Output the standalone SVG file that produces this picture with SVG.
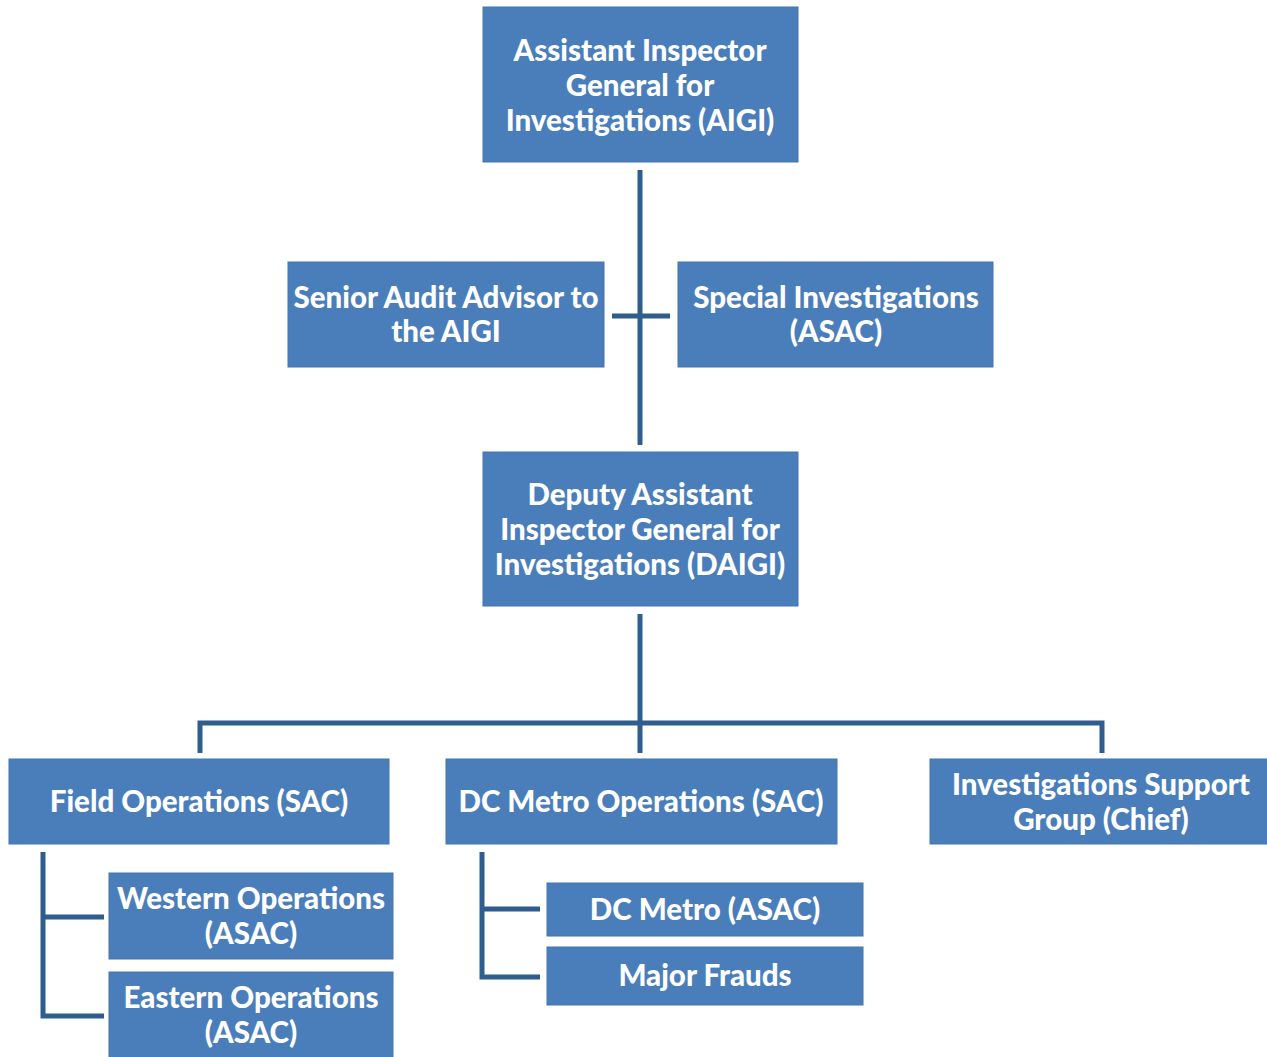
<svg xmlns="http://www.w3.org/2000/svg" width="1267" height="1057" viewBox="0 0 1267 1057">
<style>
.box{fill:#4a7ebb;stroke:#4475b0;stroke-width:1}
.t{font-family:Lato,"Open Sans","Liberation Sans",sans-serif;font-weight:900;font-size:29.5px;fill:#ffffff;text-anchor:middle}
.c{stroke:#2f5d8e;stroke-width:5;fill:none}
</style>
<rect width="1267" height="1057" fill="#ffffff"/>
<g id="connectors">
<path class="c" d="M640 170 V445"/>
<path class="c" d="M612 316 H670"/>
<path class="c" d="M640 614 V723"/>
<path class="c" d="M200 753 V723 H1102 V753"/>
<path class="c" d="M640 723 V753"/>
<path class="c" d="M43 852 V1016 H104 M43 917 H104"/>
<path class="c" d="M482 852 V977 H540 M482 909 H540"/>
</g>
<g id="aigi"><rect class="box" x="483" y="7" width="315" height="155"/>
<text class="t" x="640" y="61">Assistant Inspector</text><text class="t" x="640" y="96">General for</text><text class="t" x="640" y="131">Investigations (AIGI)</text></g>
<g id="senior"><rect class="box" x="288" y="262" width="316" height="105"/>
<text class="t" x="446" y="308">Senior Audit Advisor to</text><text class="t" x="446" y="342">the AIGI</text></g>
<g id="special"><rect class="box" x="678" y="262" width="315" height="105"/>
<text class="t" x="836" y="308">Special Investigations</text><text class="t" x="836" y="342">(ASAC)</text></g>
<g id="daigi"><rect class="box" x="483" y="452" width="315" height="154"/>
<text class="t" x="640" y="505">Deputy Assistant</text><text class="t" x="640" y="540">Inspector General for</text><text class="t" x="640" y="575">Investigations (DAIGI)</text></g>
<g id="field"><rect class="box" x="9" y="759" width="380" height="85"/>
<text class="t" x="199" y="812">Field Operations (SAC)</text></g>
<g id="dcmetroops"><rect class="box" x="446" y="759" width="391" height="85"/>
<text class="t" x="641" y="812">DC Metro Operations (SAC)</text></g>
<g id="support"><rect class="box" x="930" y="759" width="340" height="85"/>
<text class="t" x="1101" y="795">Investigations Support</text><text class="t" x="1101" y="830">Group (Chief)</text></g>
<g id="western"><rect class="box" x="109" y="873" width="284" height="86"/>
<text class="t" x="251" y="909">Western Operations</text><text class="t" x="251" y="944">(ASAC)</text></g>
<g id="eastern"><rect class="box" x="109" y="972" width="284" height="90"/>
<text class="t" x="251" y="1008">Eastern Operations</text><text class="t" x="251" y="1043">(ASAC)</text></g>
<g id="dcmetro"><rect class="box" x="547" y="883" width="316" height="53"/>
<text class="t" x="705" y="920">DC Metro (ASAC)</text></g>
<g id="major"><rect class="box" x="547" y="947" width="316" height="58"/>
<text class="t" x="705" y="986">Major Frauds</text></g>
</svg>
